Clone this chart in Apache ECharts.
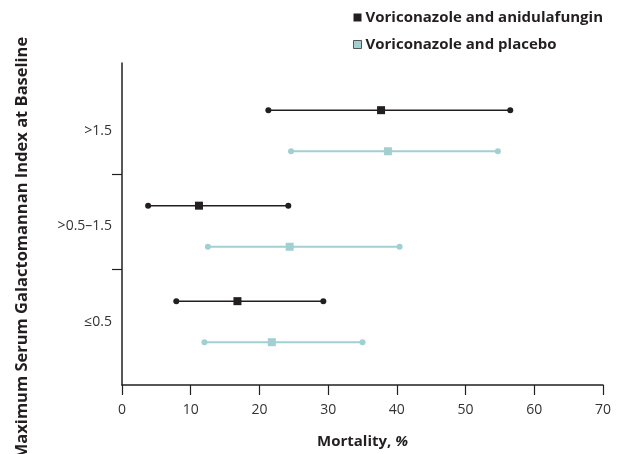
<!DOCTYPE html>
<html>
<head>
<meta charset="utf-8">
<script src="https://cdn.jsdelivr.net/npm/echarts@6/dist/echarts.min.js"></script>
<style>html,body{margin:0;padding:0;background:#fff;}#c{width:633px;height:454px;}</style>
</head>
<body>
<div id="c"></div>
<script>
// Categories, bottom to top (axis positions 1, 2, 3)
const categories = ['≤0.5', '>0.5–1.5', '>1.5'];
const seriesNames = ['Voriconazole and anidulafungin', 'Voriconazole and placebo'];
const xTicks = [0, 10, 20, 30, 40, 50, 60, 70];

// Mortality, % (point estimate and 95% CI)
const anidMid  = [16.8, 11.2, 37.7];
const anidLow  = [7.9, 3.8, 21.3];
const anidHigh = [29.3, 24.2, 56.5];

const placMid  = [21.8, 24.4, 38.7];
const placLow  = [12.0, 12.5, 24.6];
const placHigh = [35.0, 40.4, 54.7];

const DARK = '#231f20';
const TEAL = '#a2cfd2';
const FONT = 'Open Sans';

function build(low, mid, high, offset) {
  return categories.map((c, i) => [low[i], mid[i], high[i], i + 1 + offset]);
}

function makeRender(color, lineW, r, sq) {
  return function (params, api) {
    const y = api.value(3);
    const pL = api.coord([api.value(0), y]);
    const pM = api.coord([api.value(1), y]);
    const pH = api.coord([api.value(2), y]);
    return {
      type: 'group',
      children: [
        { type: 'line', shape: { x1: pL[0], y1: pL[1], x2: pH[0], y2: pH[1] },
          style: { stroke: color, lineWidth: lineW } },
        { type: 'circle', shape: { cx: pL[0], cy: pL[1], r: r }, style: { fill: color } },
        { type: 'circle', shape: { cx: pH[0], cy: pH[1], r: r }, style: { fill: color } },
        { type: 'rect', shape: { x: pM[0] - sq / 2, y: pM[1] - sq / 2, width: sq, height: sq },
          style: { fill: color } }
      ]
    };
  };
}

const chart = echarts.init(document.getElementById('c'), null, { renderer: 'canvas' });
chart.setOption({
  animation: false,
  textStyle: { fontFamily: FONT },
  grid: { left: 122, right: 30, top: 63, bottom: 69, containLabel: false },
  legend: {
    orient: 'vertical',
    left: 348,
    top: 5,
    itemGap: 12,
    itemWidth: 8,
    itemHeight: 8,
    icon: 'rect',
    textStyle: { fontFamily: FONT, fontWeight: 'bold', fontSize: 15, color: DARK, padding: [0, 0, 0, -1] },
    data: [
      { name: seriesNames[0], itemStyle: { color: DARK } },
      { name: seriesNames[1], itemStyle: { color: TEAL, borderColor: '#555', borderWidth: 1 } }
    ]
  },
  xAxis: {
    type: 'value',
    min: 0, max: 70, interval: 10,
    axisLine: { show: true, lineStyle: { color: DARK, width: 1.5 } },
    axisTick: { show: true, length: 10, inside: false, lineStyle: { color: DARK, width: 1.2 } },
    axisLabel: { color: '#333', fontSize: 14, margin: 18, fontFamily: FONT,
      formatter: v => xTicks.includes(v) ? String(v) : '' },
    splitLine: { show: false },
    name: '{b|Mortality, }{i|%}',
    nameLocation: 'middle',
    nameGap: 49,
    nameTextStyle: {
      rich: {
        b: { fontFamily: FONT, fontWeight: 'bold', fontSize: 15, color: DARK },
        i: { fontFamily: FONT, fontWeight: 'bold', fontStyle: 'italic', fontSize: 15, color: DARK }
      }
    }
  },
  yAxis: {
    type: 'value',
    min: 0.337, max: 3.709,
    axisLine: { show: true, lineStyle: { color: DARK, width: 1.5 } },
    axisTick: { show: true, length: 10, customValues: [1.55, 2.54], lineStyle: { color: DARK, width: 1.2 } },
    axisLabel: { show: true, customValues: [1, 2, 3], color: '#333', fontSize: 14, margin: 10, fontFamily: FONT,
      formatter: v => categories[Math.round(v) - 1] },
    splitLine: { show: false }
  },
  graphic: [{
    type: 'text',
    x: 22, y: 248,
    rotation: Math.PI / 2,
    style: {
      text: 'Maximum Serum Galactomannan Index at Baseline',
      fontFamily: FONT, fontWeight: 'bold', fontSize: 16.5, fill: DARK,
      textAlign: 'center', textVerticalAlign: 'middle'
    }
  }],
  series: [
    {
      name: seriesNames[0], type: 'custom', color: DARK,
      renderItem: makeRender(DARK, 1.5, 3, 8),
      encode: { x: [0, 1, 2], y: 3 },
      data: build(anidLow, anidMid, anidHigh, 0.215)
    },
    {
      name: seriesNames[1], type: 'custom', color: TEAL,
      renderItem: makeRender(TEAL, 2, 3, 8),
      encode: { x: [0, 1, 2], y: 3 },
      data: build(placLow, placMid, placHigh, -0.215)
    }
  ]
});
</script>
</body>
</html>
